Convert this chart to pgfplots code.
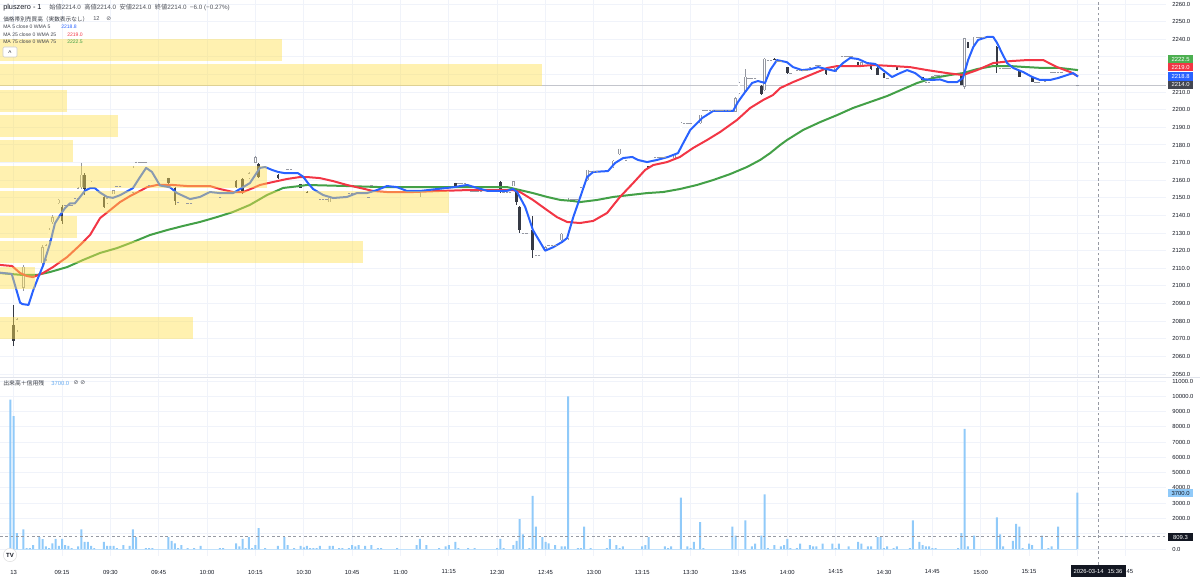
\documentclass[border=0pt]{standalone}
\usepackage{fontspec}
\setmainfont{Liberation Sans}
\newfontfamily\jp{Noto Sans CJK JP}
\newfontfamily\dvs{DejaVu Sans}
\usepackage{pgfplots}
\usepackage{pgfplotstable}
\pgfplotsset{compat=1.18}

\definecolor{tvtext}{RGB}{19,23,34}
\definecolor{tvgray}{RGB}{120,123,134}
\definecolor{gridc}{RGB}{240,243,250}
\definecolor{sepc}{RGB}{224,227,235}
\definecolor{mablue}{RGB}{41,98,255}
\definecolor{mared}{RGB}{242,54,69}
\definecolor{magreen}{RGB}{67,160,71}
\definecolor{boxgreen}{RGB}{76,175,80}
\definecolor{boxdark}{RGB}{67,70,81}
\definecolor{vpyellow}{RGB}{255,224,80}
\definecolor{volblue}{RGB}{144,202,249}
\definecolor{voltext}{RGB}{100,170,240}
\definecolor{candledn}{RGB}{54,58,69}
\definecolor{candleup}{RGB}{149,152,161}
\definecolor{dashc}{RGB}{150,153,162}

\newcommand\tk{\fontsize{4.4}{5}\selectfont}

\pgfplotstableread{
i v
-1 9780
0 8700
1 1040
3 1280
4 50
5 50
6 260
8 780
9 650
10 170
11 50
12 370
13 670
14 200
15 670
16 260
17 200
18 50
20 170
21 1280
22 460
23 460
24 200
25 50
28 460
29 200
30 200
31 200
32 50
34 260
36 200
37 1280
38 780
41 50
42 50
43 50
48 780
49 540
50 370
51 50
52 260
54 50
56 50
58 200
64 50
65 50
69 370
70 170
71 670
72 50
73 780
74 50
75 260
76 1370
78 50
82 200
84 780
85 260
87 50
89 200
90 100
91 200
92 50
93 50
94 50
95 200
98 200
99 200
101 50
102 50
104 50
105 260
106 170
107 260
109 200
111 260
113 50
114 50
119 50
125 260
126 670
128 260
132 50
134 170
135 260
137 460
138 50
141 50
143 50
150 50
151 670
152 50
155 260
156 540
157 1960
158 960
160 50
161 3480
162 1460
164 780
165 460
166 370
168 260
170 170
171 170
172 10000
175 50
176 50
177 1460
179 50
184 50
185 650
187 260
188 50
189 170
195 170
196 260
197 780
202 170
203 50
204 170
207 3370
209 170
210 50
211 460
213 1760
214 50
223 1460
224 870
227 1870
229 170
230 350
232 870
233 3570
234 50
236 260
238 170
239 260
240 670
241 50
243 50
244 350
247 260
248 170
249 170
251 350
254 350
255 50
256 350
259 170
262 460
263 350
265 170
266 170
268 780
269 780
270 50
271 170
273 50
274 170
278 50
279 1870
281 460
282 260
283 170
284 170
285 50
286 50
293 50
294 1040
295 7870
296 170
298 870
305 2070
306 960
307 170
310 540
311 1650
312 1460
313 50
315 350
316 260
319 870
321 50
322 170
324 1460
330 3700
}\voltable

\pgfplotstableread{
i o h l c
1 2075 2082 2074 2081
3 2099 2112 2097 2111
9 2113 2123 2112 2122
10 2115 2124 2114 2123
11 2126 2133 2125 2132
12 2136 2140 2135 2139
14 2147 2149.5 2146.5 2149
20 2149.5 2156 2149 2155.5
21 2156 2170 2155 2163
24 2156 2159.5 2155.5 2159
29 2147 2150 2146.5 2149.8
31 2152.2 2154.5 2152 2154.4
37 2153 2168 2152 2167
38 2168.6 2170.5 2168.5 2170.3
73 2161 2164.5 2160.5 2164
75 2170 2174 2169.5 2173
98 2147.6 2150 2147.5 2150
126 2150.5 2153.5 2150.3 2153.3
155 2156.7 2159.5 2156.5 2159.5
165 2120.4 2122.5 2120 2122
170 2126 2130 2125.5 2129.5
172 2127 2150 2126 2149
178 2160 2166 2159.5 2165.8
186 2167.5 2171.2 2167 2171
188 2174.9 2178 2174.5 2177.7
190 2169.2 2171.5 2169 2171.4
198 2169.8 2172.8 2169.5 2172.6
205 2172.6 2174.5 2172.4 2174.3
207 2174.3 2193 2174 2192.5
213 2192.5 2197.3 2192 2197
224 2199 2207 2198.5 2206.5
225 2209.5 2215.5 2209 2215.2
227 2210 2223 2209.5 2218.6
233 2211 2229.5 2210.5 2228.8
247 2222.5 2224.2 2222.3 2224
255 2221.4 2223.9 2221.2 2223.7
263 2224.2 2227.2 2224 2227
285 2217.4 2219.2 2217.2 2219
295 2213 2241 2211.5 2240.5
298 2236.7 2241.5 2236.5 2241.3
310 2222.5 2224.2 2222.3 2224
319 2215.2 2218.8 2215 2218.6
}\upc

\pgfplotstableread{
i o h l c
0 2078 2089 2066 2069
15 2145 2146 2135 2137
22 2163 2164 2151.5 2155
28 2150.5 2151 2144 2145
48 2161 2161.5 2158 2158.4
50 2155.5 2156 2146 2148
69 2159.5 2160 2155.5 2156
71 2160.5 2161 2152 2153.5
76 2169 2169.5 2161 2162
82 2163 2163.5 2160.5 2161.2
89 2157.8 2158 2155.4 2155.6
91 2153.5 2153.7 2152.5 2152.7
137 2158.4 2158.6 2155.8 2156
151 2159 2159.5 2153 2153.3
156 2155 2155.2 2146 2147.6
157 2145 2145.3 2130 2131.7
161 2132 2139.6 2115.8 2120.4
197 2168 2168.2 2166.8 2167
232 2213.5 2214 2208.5 2209
236 2229 2229.2 2228.6 2228.8
240 2224 2224.3 2220.5 2220.8
252 2222.5 2222.7 2220 2220.3
262 2227 2227.3 2224 2224.2
266 2226 2226.3 2222.5 2223
268 2223.7 2224 2219.5 2219.7
270 2220.8 2221 2217.8 2218
274 2224 2224.2 2222.3 2222.5
282 2218.6 2218.8 2216.8 2217
294 2219.7 2220 2213.8 2214
296 2238.4 2238.6 2234.8 2235
305 2235.5 2236 2221 2224
312 2222.5 2222.7 2218.4 2218.6
316 2218.6 2218.8 2215.5 2215.7
}\dnc

\pgfplotstableread{
i p
16 2145.5
17 2145.5
18 2145.5
19 2150
32 2156.7
33 2156.7
39 2170.3
40 2170.3
41 2170.3
42 2157.3
51 2147.6
54 2146.9
55 2146.9
64 2150.6
85 2166.4
86 2166.4
95 2149.3
96 2149.3
97 2149.3
104 2152.7
105 2152.7
106 2152.7
107 2152.7
110 2150.5
111 2157.3
138 2158.4
139 2158.4
140 2158.4
142 2154
143 2154
144 2154
145 2154
152 2153.3
153 2153.3
154 2153.3
158 2130
159 2130
162 2117.5
163 2117.5
166 2123.2
167 2123.2
168 2123.2
173 2149.3
174 2149.3
175 2149.3
176 2156
179 2165.2
180 2165.2
181 2165.2
199 2173.2
200 2173.2
201 2173.2
202 2173.2
208 2192.5
209 2192.5
210 2192.5
214 2199.8
215 2199.8
216 2199.8
217 2199.8
218 2199.8
219 2199.8
220 2199.8
221 2199.8
222 2199.8
228 2218
229 2218
230 2218
234 2228.2
235 2228.2
237 2227.6
238 2227.6
241 2220.8
243 2222.5
244 2222.5
245 2222.5
246 2222.5
249 2225.4
250 2225.4
257 2230.5
258 2230.5
259 2230.5
260 2230.5
271 2217.7
283 2215.7
284 2215.7
286 2219.7
287 2219.7
288 2219.7
299 2241.3
300 2241.3
301 2241.3
306 2223.7
307 2223.7
308 2223.7
309 2223.7
317 2215.5
318 2215.5
320 2216
322 2221
323 2221
324 2221
325 2221
330 2214
}\dashtable

\pgfplotsset{
  tvbase/.style={
    scale only axis, width=874.5pt,
    xmin=-4.24, xmax=357.5,
    axis line style={draw=none}, tick style={draw=none}, major tick length=0pt,
    xtick={0,15,...,345},
    grid=major, grid style={draw=gridc, line width=0.75pt},
    extra tick style={grid=major, grid style={draw=gridc, line width=0.75pt}},
    yticklabel pos=right,
    yticklabel style={anchor=west, inner sep=0pt, xshift=4.5pt, font=\tk, text=tvtext,
      /pgf/number format/fixed, /pgf/number format/fixed zerofill,
      /pgf/number format/precision=1, /pgf/number format/1000 sep={}},
    /pgf/number format/assume math mode=true,
    scaled y ticks=false,
  },
  vpbox/.style={fill=vpyellow, fill opacity=0.45, draw=none, forget plot},
}

\begin{document}
\begin{tikzpicture}[x=1pt,y=1pt]

% ---------------- price pane ----------------
\begin{axis}[tvbase, at={(0pt,153.75pt)}, anchor=south west, height=282.75pt,
  ymin=2048.3, ymax=2262.3, ytick={2050,2060,...,2210,2240,2250,2260},
  extra y ticks={2220,2230}, extra y tick labels={}, xticklabels={}]

% last price line
\addplot[draw={rgb,255:red,195;green,197;blue,204}, line width=0.75pt, forget plot] coordinates {(-4.24,2214)(357.5,2214)};

% wicks
\addplot[draw=none, mark=none, forget plot, error bars/.cd, y dir=minus, y explicit, error mark=none,
  error bar style={draw=candleup, line width=0.45pt}]
  table[x=i, y=h, y error expr={\thisrow{h}-\thisrow{l}}] {\upc};
\addplot[draw=none, mark=none, forget plot, error bars/.cd, y dir=minus, y explicit, error mark=none,
  error bar style={draw=candledn, line width=0.45pt}]
  table[x=i, y=h, y error expr={\thisrow{h}-\thisrow{l}}] {\dnc};
% bodies
\addplot[draw=none, mark=none, forget plot, error bars/.cd, y dir=minus, y explicit, error mark=none,
  error bar style={draw=candleup, line width=1.9pt}]
  table[x=i, y expr={max(\thisrow{o},\thisrow{c})}, y error expr={abs(\thisrow{o}-\thisrow{c})}] {\upc};
\addplot[draw=none, mark=none, forget plot, error bars/.cd, y dir=minus, y explicit, error mark=none,
  error bar style={draw=white, line width=1.0pt}]
  table[x=i, y expr={max(\thisrow{o},\thisrow{c})-0.25}, y error expr={max(abs(\thisrow{o}-\thisrow{c})-0.5,0)}] {\upc};
\addplot[draw=none, mark=none, forget plot, error bars/.cd, y dir=minus, y explicit, error mark=none,
  error bar style={draw=candledn, line width=1.9pt}]
  table[x=i, y expr={max(\thisrow{o},\thisrow{c})}, y error expr={abs(\thisrow{o}-\thisrow{c})}] {\dnc};
% no-trade minutes
\addplot[only marks, mark=-, mark size=1pt, mark options={draw=dashc, line width=0.4pt}, forget plot]
  table[x=i, y=p] {\dashtable};

% MA 75
\addplot[magreen, line width=1.5pt, line join=round] coordinates {
(-4.2,2107.3)(-1.1,2106.8)(2.9,2106.2)(7.2,2106.2)(11.3,2107.9)(16.6,2110.7)(21.5,2114.7)(26.8,2118.7)(32.1,2121.5)(37.0,2124.9)(42.3,2128.9)(47.6,2131.7)(52.5,2134)(57.8,2136.3)(63.1,2139.1)(68.1,2142)(73.3,2146)(78.6,2151.6)(83.6,2155.6)(88.8,2156.7)(91.0,2157.3)(103.4,2156.7)(113.7,2156.1)(144.7,2156.1)(153.1,2156.1)(157.1,2154.4)(161.1,2152.7)(165.5,2150.5)(169.6,2148.8)(173.6,2148.2)(175.7,2147.6)(181.0,2148.8)(186.0,2150.5)(191.2,2151.6)(196.5,2152.7)(201.5,2153.3)(206.7,2155)(212.0,2157.3)(217.0,2160.1)(222.3,2163.5)(227.5,2167.5)(231.6,2171.5)(234.7,2175.4)(237.8,2180)(239.9,2182.8)(244.9,2188.5)(250.2,2193)(255.5,2197)(260.4,2201)(265.7,2204.4)(271.0,2207.8)(276.0,2211.8)(280.3,2215.2)(285.2,2218)(290.5,2219.7)(294.5,2220.8)(298.9,2223.1)(303.9,2224.8)(309.1,2224.8)(314.4,2224.2)(319.4,2223.7)(324.7,2223.7)(330.2,2222.5)};
% MA 25
\addplot[mared, line width=1.5pt, line join=round] coordinates {
(-4.2,2111.9)(-0.5,2111.3)(2.0,2107.3)(4.1,2105.6)(6.0,2105)(9.1,2107.3)(12.2,2110.7)(16.6,2116.4)(20.6,2123.2)(23.7,2128.9)(26.8,2138.5)(29.9,2143)(33.0,2147.6)(36.1,2151)(39.2,2153.9)(41.4,2156.1)(44.5,2157.3)(49.4,2157.3)(53.8,2156.7)(60.9,2156.7)(64.0,2155)(68.1,2153.3)(71.2,2153.3)(74.3,2155.6)(76.4,2157.3)(80.5,2159)(84.8,2160.7)(88.8,2161.8)(91.0,2161.8)(95.0,2161.2)(99.1,2159.5)(103.4,2157.3)(107.5,2155.6)(111.5,2153.9)(115.8,2153.3)(123.9,2153.3)(132.3,2153.9)(140.7,2154.4)(154.9,2154.4)(157.1,2153.3)(161.1,2148.8)(165.5,2143)(168.6,2139)(171.7,2136.3)(175.7,2135.7)(179.8,2136.9)(184.1,2141.4)(188.1,2150.5)(192.2,2158.4)(195.9,2165.8)(198.4,2168.6)(202.7,2170.3)(206.7,2173.2)(210.8,2178.3)(215.1,2182.8)(219.2,2187.4)(224.4,2194.2)(228.5,2201)(232.5,2205.5)(235.6,2208.4)(237.8,2212.3)(241.8,2215.7)(247.1,2219.7)(252.4,2223.7)(255.5,2224.8)(262.6,2224.8)(266.7,2225.4)(272.8,2224.8)(278.1,2224.2)(283.4,2222.5)(289.6,2220.8)(294.5,2219.7)(298.9,2222.5)(303.9,2226.5)(309.1,2227.6)(314.4,2228.2)(319.4,2228.2)(323.7,2224.2)(327.8,2221.4)(330.2,2219.0)};
% MA 5
\addplot[mablue, line width=1.5pt, line join=round] coordinates {
(-4.2,2107.5)(-0.6,2106.8)(2.0,2090.5)(2.7,2089.7)(4.6,2089.2)(6.1,2097.7)(7.7,2105.2)(9.2,2111.9)(11.3,2124.2)(12.8,2135.5)(14.4,2140.2)(15.9,2144.1)(17.5,2146.9)(19.0,2146.9)(20.6,2150.5)(22.1,2154)(23.7,2155.5)(25.2,2155.5)(26.8,2153)(29.0,2150.5)(30.8,2150)(33.0,2151.5)(35.5,2154)(37.0,2155.5)(39.2,2161.8)(41.1,2167)(42.9,2164.7)(45.4,2157)(48.5,2156)(50.7,2152.7)(54.7,2149.3)(57.8,2150.5)(60.9,2153.3)(64.0,2152.7)(68.1,2152.7)(70.2,2155)(73.3,2158.4)(76.4,2167)(78.0,2167.5)(80.2,2165.8)(82.0,2164.7)(84.2,2164)(88.2,2164)(89.8,2162)(91.3,2158.4)(92.9,2155)(96.0,2151.6)(99.1,2149.9)(103.4,2150.5)(106.5,2152.7)(109.6,2152.7)(112.7,2154.4)(115.8,2156.7)(118.9,2156.1)(122.0,2153.9)(126.1,2153.9)(131.4,2155)(136.3,2156)(140.7,2157.3)(143.8,2155.6)(146.9,2154)(153.1,2154)(154.9,2155)(156.2,2153.3)(158.7,2144.8)(161.1,2131.7)(164.9,2120)(167.4,2122)(170.2,2125)(171.7,2127.2)(173.6,2139)(175.7,2150)(177.9,2161.8)(179.8,2164.7)(184.4,2165.2)(186.6,2169.8)(189.1,2172.6)(191.9,2173.2)(193.7,2171.5)(196.5,2170.3)(199.6,2171.5)(203.0,2173.2)(206.1,2175.4)(207.7,2181)(209.9,2188.5)(213.6,2195.3)(217.0,2199.3)(223.2,2199.3)(224.7,2204.4)(226.9,2210)(229.1,2215.2)(230.9,2216.3)(233.1,2215.2)(234.7,2222.5)(236.8,2228.2)(239.9,2227)(241.8,2224.2)(244.6,2222.5)(247.1,2223)(249.6,2224.2)(252.4,2223)(254.8,2222)(257.3,2226.5)(259.5,2229.4)(262.0,2228.8)(264.8,2226.5)(267.3,2226)(269.7,2222.5)(272.5,2218.6)(275.0,2220.8)(277.2,2222.5)(279.7,2220.8)(282.1,2217.4)(284.9,2216.9)(287.4,2217.2)(289.9,2215.7)(292.7,2215.7)(294.5,2218)(296.1,2228.2)(297.7,2235.6)(299.2,2239.6)(302.0,2241.3)(303.9,2241.3)(305.1,2237.9)(306.6,2232.2)(308.2,2226.5)(310.1,2223.7)(313.2,2221.4)(316.0,2218.6)(318.4,2216.9)(321.5,2216.9)(324.0,2218)(326.8,2219.7)(328.7,2220.8)(330.2,2218.8)};

% volume profile rows (price bins, length = traded volume)
\addplot[vpbox] coordinates {(-4.24,2240.14)(83.3,2240.14)(83.3,2227.65)(-4.24,2227.65)} -- cycle;
\addplot[vpbox] coordinates {(-4.24,2225.78)(163.9,2225.78)(163.9,2213.29)(-4.24,2213.29)} -- cycle;
\addplot[vpbox] coordinates {(-4.24,2211.42)(16.6,2211.42)(16.6,2198.93)(-4.24,2198.93)} -- cycle;
\addplot[vpbox] coordinates {(-4.24,2197.06)(32.4,2197.06)(32.4,2184.57)(-4.24,2184.57)} -- cycle;
\addplot[vpbox] coordinates {(-4.24,2182.70)(18.4,2182.70)(18.4,2170.21)(-4.24,2170.21)} -- cycle;
\addplot[vpbox] coordinates {(-4.24,2168.34)(78.6,2168.34)(78.6,2155.85)(-4.24,2155.85)} -- cycle;
\addplot[vpbox] coordinates {(-4.24,2153.98)(135.1,2153.98)(135.1,2141.49)(-4.24,2141.49)} -- cycle;
\addplot[vpbox] coordinates {(-4.24,2139.62)(19.7,2139.62)(19.7,2127.13)(-4.24,2127.13)} -- cycle;
\addplot[vpbox] coordinates {(-4.24,2125.27)(108.4,2125.27)(108.4,2112.78)(-4.24,2112.78)} -- cycle;
\addplot[vpbox] coordinates {(-4.24,2110.91)(6.6,2110.91)(6.6,2098.42)(-4.24,2098.42)} -- cycle;
\addplot[vpbox] coordinates {(-4.24,2082.19)(55.6,2082.19)(55.6,2069.70)(-4.24,2069.70)} -- cycle;
\end{axis}

% ---------------- volume pane ----------------
\begin{axis}[tvbase, at={(0pt,19.5pt)}, anchor=south west, height=132.75pt,
  ymin=-458, ymax=11133, ytick={0,2000,3000,...,11000},
  extra y ticks={1000}, extra y tick labels={},
  xticklabels={13,09:15,09:30,09:45,10:00,10:15,10:30,10:45,11:00,11:15,12:30,12:45,13:00,13:15,13:30,13:45,14:00,14:15,14:30,14:45,15:00,15:15,,15:45},
  xticklabel style={anchor=center, inner sep=0pt, yshift=-12pt, font=\tk, text=tvtext}]
\addplot[draw=volblue!55, line width=0.6pt, forget plot] coordinates {(-1,0)(330,0)};
\addplot[ybar, bar width=0.62, fill=volblue, draw=none] table[x=i, y=v] {\voltable};
\addplot[draw=dashc, line width=0.5pt, dash pattern=on 2pt off 2pt, forget plot] coordinates {(-4.24,809.3)(357.5,809.3)};
\end{axis}

% pane separator and crosshair
\draw[sepc, line width=0.8pt] (0,153.4) -- (900,153.4);
\draw[dashc, line width=0.5pt, dash pattern=on 2pt off 2pt] (823.7,13) -- (823.7,436.5);

% legends (price pane)
\node[anchor=west, inner sep=0pt, font=\fontsize{5.5}{6}\selectfont, text=tvtext] at (2.25,430.5) {pluszero - 1};
\node[anchor=west, inner sep=0pt, font=\fontsize{4.7}{5}\selectfont, text=tvtext!75] at (36.75,430.5)
  {{\jp 始値}2214.0\ \ {\jp 高値}2214.0\ \ {\jp 安値}2214.0\ \ {\jp 終値}2214.0\ \ −6.0 (−0.27\%)};
\node[anchor=west, inner sep=0pt, font=\fontsize{4.25}{5}\selectfont, text=tvtext!85] at (2.25,422.25) {\jp 価格帯別売買高（実数表示なし）};
\node[anchor=west, inner sep=0pt, font=\fontsize{4.25}{5}\selectfont, text=tvtext!75] at (69.75,422.25) {12};
\node[anchor=west, inner sep=0pt, font=\fontsize{4.25}{5}\selectfont, text=tvtext!75] at (79.5,422.25) {\dvs ⊘};
\node[anchor=west, inner sep=0pt, font=\fontsize{3.8}{4}\selectfont, text=tvtext!80] at (2.25,416.25) {MA 5 close 0 WMA 5};
\node[anchor=west, inner sep=0pt, font=\fontsize{3.8}{4}\selectfont, text=mablue] at (45.75,416.25) {2218.8};
\node[anchor=west, inner sep=0pt, font=\fontsize{3.8}{4}\selectfont, text=tvtext!80] at (2.25,410.6) {MA 25 close 0 WMA 25};
\node[anchor=west, inner sep=0pt, font=\fontsize{3.8}{4}\selectfont, text=mared] at (50.25,410.6) {2219.0};
\node[anchor=west, inner sep=0pt, font=\fontsize{3.8}{4}\selectfont, text=tvtext!80] at (2.25,405) {MA 75 close 0 WMA 75};
\node[anchor=west, inner sep=0pt, font=\fontsize{3.8}{4}\selectfont, text=magreen] at (50.25,405) {2222.5};
\draw[rounded corners=1pt, fill=white, draw=gray!40, line width=0.4pt] (2.25,393.75) rectangle (12.75,401.25);
\node[inner sep=0pt, font=\fontsize{5}{5}\selectfont, text=tvtext] at (7.5,396.8) {\textasciicircum};

% legend (volume pane)
\node[anchor=west, inner sep=0pt, font=\fontsize{4.4}{5}\selectfont, text=tvtext!85] at (2.25,149.25) {\jp 出来高＋信用残};
\node[anchor=west, inner sep=0pt, font=\fontsize{4.4}{5}\selectfont, text=voltext] at (38.25,149.25) {3700.0};
\node[anchor=west, inner sep=0pt, font=\fontsize{4.4}{5}\selectfont, text=tvtext!75] at (55,149.25) {\dvs ⊘\ ⊘};

% value labels on the scales
\node[fill=boxgreen, text=white, inner sep=0pt, minimum width=18.75pt, minimum height=6.2pt, font=\tk] at (885.4,392.25) {2222.5};
\node[fill=mared, text=white, inner sep=0pt, minimum width=18.75pt, minimum height=6.2pt, font=\tk] at (885.4,386.0) {2219.0};
\node[fill=mablue, text=white, inner sep=0pt, minimum width=18.75pt, minimum height=6.2pt, font=\tk] at (885.4,379.2) {2218.8};
\node[fill=boxdark, text=white, inner sep=0pt, minimum width=18.75pt, minimum height=6.2pt, font=\tk] at (885.4,373.0) {2214.0};
\node[fill=volblue, text=tvtext, inner sep=0pt, minimum width=18.75pt, minimum height=6.2pt, font=\tk] at (885.4,66.75) {3700.0};
\node[fill=tvtext, text=white, inner sep=0pt, minimum width=18.75pt, minimum height=6.2pt, font=\tk] at (885.4,33.75) {809.3};
\node[fill=tvtext, text=white, inner sep=0pt, minimum width=41.25pt, minimum height=9.5pt, font=\tk] at (823.5,8.25) {2026-03-14\hspace{3pt}15:36};

% logo
\node[circle, fill=white, draw=gray!25, line width=0.4pt, minimum size=10pt, inner sep=0pt, font=\bfseries\fontsize{4.5}{5}\selectfont, text=tvtext] at (7.5,20.25) {TV};

\pgfresetboundingbox
\useasboundingbox (0,0) rectangle (900,436.5);
\end{tikzpicture}
\end{document}
